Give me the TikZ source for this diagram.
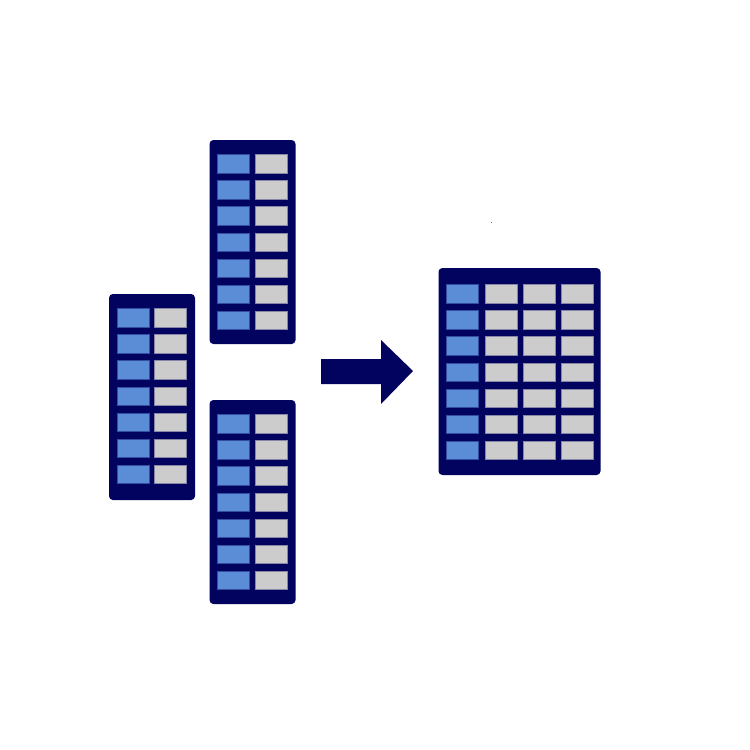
\documentclass[tikz,border=0pt]{standalone}
\usepackage{tikz}
\usetikzlibrary{calc}
\definecolor{tablenavy}{HTML}{02025F}
\definecolor{keyblue}{HTML}{5B8CD6}
\definecolor{valgray}{HTML}{CCCCCC}
\tikzset{
  tableframe/.style={fill=tablenavy,rounded corners=2.2pt},
  keycell/.style={fill=keyblue,draw=tablenavy!45!keyblue,line width=0.3pt},
  valcell/.style={fill=valgray,draw=tablenavy!35!valgray,line width=0.3pt},
}
\begin{document}
\begin{tikzpicture}[x=0.02cm,y=-0.02cm]
  \useasboundingbox (0,0) rectangle (750,750);
  \fill[white] (0,0) rectangle (750,750);
  % three narrow tables
  \foreach \px/\py/\ph in {209.5/140/204,109/294/206,209.5/400/204}{
    \fill[tableframe,shift={(\px,\py)}] (0,0) rectangle (86,\ph);
    \foreach \r in {0,...,6}{
      \draw[keycell,shift={(\px,\py)}] (8,14.5+26.1*\r) rectangle (40,33+26.1*\r);
      \draw[valcell,shift={(\px,\py)}] (45.5,14.5+26.1*\r) rectangle (77.5,33+26.1*\r);
    }
  }
  % arrow
  \fill[tablenavy] (321,359) -- (381,359) -- (381,340) -- (413,371) -- (381,404) -- (381,384) -- (321,384) -- cycle;
  % joined table
  \fill[tableframe] (438.5,268) rectangle (600.5,475);
  \foreach \r in {0,...,6}{
    \draw[keycell] (446,284.5+26.1*\r) rectangle (478,303+26.1*\r);
    \foreach \c in {485,523,561}{
      \draw[valcell] (\c,284.5+26.1*\r) rectangle (\c+32,303+26.1*\r);
    }
  }
  \fill[tablenavy!60] (491,221.5) rectangle (492,222.5);
\end{tikzpicture}
\end{document}
